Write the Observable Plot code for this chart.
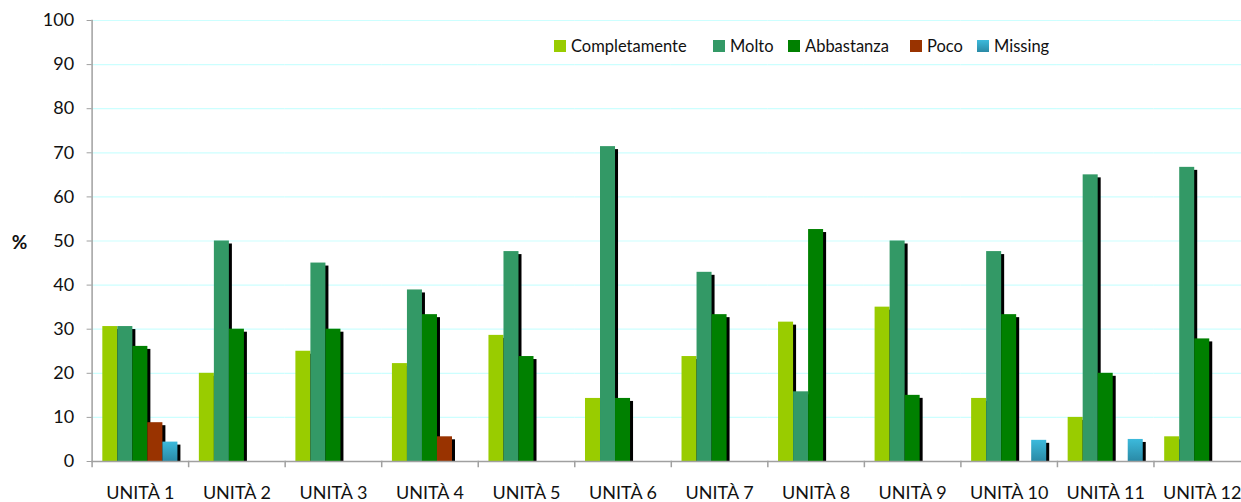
<!DOCTYPE html>
<html><head><meta charset="utf-8">
<script src="https://cdn.jsdelivr.net/npm/d3@7"></script>
<script src="https://cdn.jsdelivr.net/npm/@observablehq/plot@0.6"></script>
<style>
html,body{margin:0;padding:0;background:#fff;overflow:hidden;width:1241px;height:502px;}
#wrap{position:relative;width:1241px;height:502px;overflow:hidden;font-family:Lato,sans-serif;}
#wrap svg{position:absolute;left:0;top:0;max-width:none !important;}
.lg{position:absolute;top:36px;height:20px;display:flex;align-items:center;font-size:16.5px;color:#111;white-space:nowrap;}
.lg span.sw{display:inline-block;width:12px;height:12px;margin-right:5px;}
</style></head><body><div id="wrap"></div>
<script>
const units = ["UNITÀ 1","UNITÀ 2","UNITÀ 3","UNITÀ 4","UNITÀ 5","UNITÀ 6","UNITÀ 7","UNITÀ 8","UNITÀ 9","UNITÀ 10","UNITÀ 11","UNITÀ 12"];
const series = ["Completamente","Molto","Abbastanza","Poco","Missing"];
const completamente = [30.6, 20.0, 25.0, 22.2, 28.6, 14.3, 23.8, 31.6, 35.0, 14.3, 10.0, 5.6];
const molto         = [30.6, 50.0, 45.0, 38.9, 47.6, 71.4, 42.9, 15.8, 50.0, 47.6, 65.0, 66.7];
const abbastanza    = [26.1, 30.0, 30.0, 33.3, 23.8, 14.3, 33.3, 52.6, 15.0, 33.3, 20.0, 27.8];
const poco          = [8.8, null, null, 5.6, null, null, null, null, null, null, null, null];
const missing       = [4.4, null, null, null, null, null, null, null, null, 4.8, 5.0, null];
const yTicks = [0,10,20,30,40,50,60,70,80,90,100];
const colors = ["#99cc00","#339966","#008000","#993300","url(#missGrad)"];
const legendColors = ["#99cc00","#339966","#008000","#993300","linear-gradient(#3cbadc,#2a8aa6)"];

const valuesBySeries = [completamente, molto, abbastanza, poco, missing];
const rows = [];
units.forEach((u, i) => series.forEach((s, j) => {
  const v = valuesBySeries[j][i];
  if (v != null) rows.push({unit: u, series: s, value: v});
}));

const W = 1250, H = 502, MT = 20, MB = 41, ML = 91.6;
const font = "Lato, sans-serif";
const plot = Plot.plot({
  width: W, height: H,
  marginTop: MT, marginBottom: MB, marginLeft: ML, marginRight: 0,
  style: {fontFamily: font, fontSize: "18px", color: "#111", background: "white", maxWidth: "none"},
  fx: {domain: units, padding: 0, round: false, label: null},
  x: {domain: series, paddingInner: 0, paddingOuter: 0.714, round: false, axis: null},
  y: {domain: [0, 100], label: null},
  color: {domain: series, range: colors},
  marks: [
    Plot.gridY(yTicks, {stroke: "#ccffff", strokeOpacity: 1, strokeWidth: 1.2}),
    Plot.barY(rows, {fx: "unit", x: "series", y: "value", fill: "black", dx: 3, insetTop: 3}),
    Plot.barY(rows, {fx: "unit", x: "series", y: "value", fill: "series"}),
    Plot.ruleY([0], {stroke: "#a0a0a0", strokeWidth: 1.5}),
    Plot.frame({anchor: "left", facetAnchor: "left", stroke: "#a0a0a0", strokeWidth: 1.5}),
    Plot.frame({anchor: "left", stroke: "#a0a0a0", strokeWidth: 1.5, insetTop: H - MT - MB, insetBottom: -5}),
    Plot.axisY(yTicks, {tickSize: 5, tickPadding: 13, stroke: "#a0a0a0", fontSize: 18, label: null}),
    Plot.axisFx({anchor: "bottom", tickSize: 0, tickPadding: 25, fontSize: 18, label: null}),
    Plot.text(["%"], {frameAnchor: "left", dx: -72.5, dy: 2, textAnchor: "middle", fontWeight: "bold", fontSize: 19, facetAnchor: "left", fill: "#111"})
  ]
});
const wrap = document.getElementById("wrap");
wrap.appendChild(plot);
d3.select(plot).insert("defs", ":first-child").html(
  '<linearGradient id="missGrad" x1="0" y1="0" x2="0" y2="1"><stop offset="0" stop-color="#3cbadc"/><stop offset="1" stop-color="#2a8aa6"/></linearGradient>');

const legendX = [554, 713, 788, 910, 977];
series.forEach((s, j) => {
  const d = document.createElement("div");
  d.className = "lg";
  d.style.left = legendX[j] + "px";
  d.innerHTML = `<span class="sw" style="background:${legendColors[j]}"></span>${s}`;
  wrap.appendChild(d);
});
</script></body></html>
